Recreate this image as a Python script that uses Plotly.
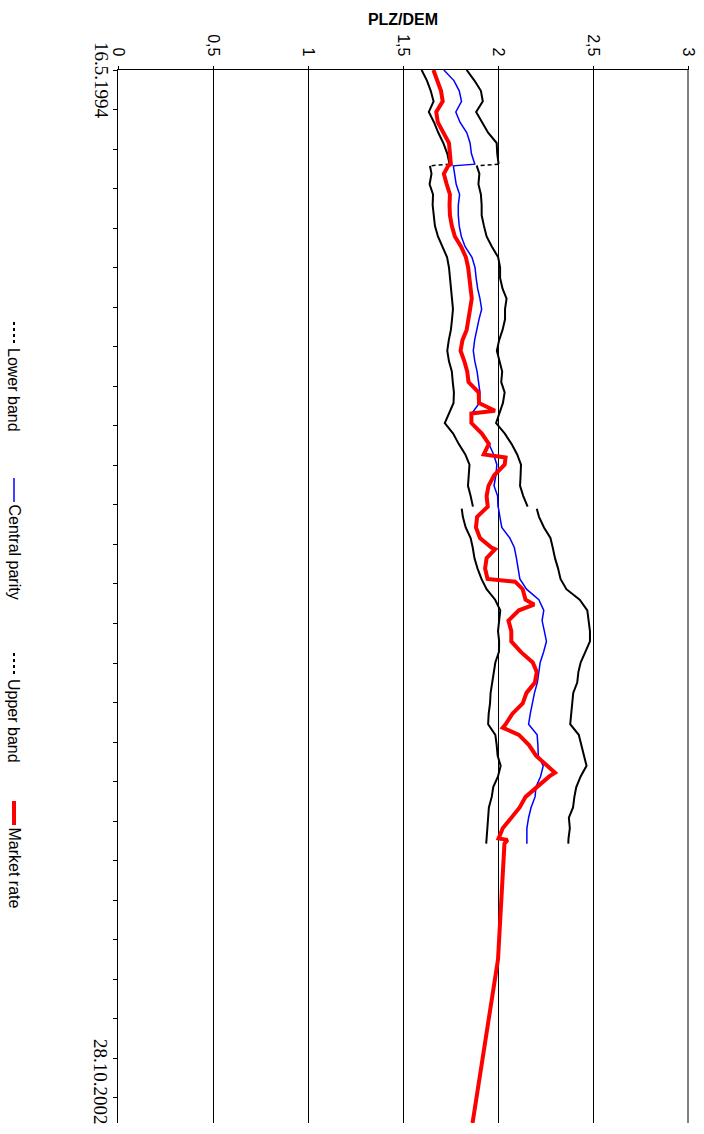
import plotly.graph_objects as go

# ---------------- data ----------------
band_dates = [
    "1994-05-16", "1994-06-16", "1994-07-16", "1994-08-16", "1994-09-16",
    "1994-10-16", "1994-11-16", "1994-12-16", "1995-01-16", "1995-02-16",
    "1995-02-21",
    "1995-03-16", "1995-04-16", "1995-05-16", "1995-06-16", "1995-07-16",
    "1995-08-16", "1995-09-16", "1995-10-16", "1995-11-16", "1995-12-16",
    "1996-01-16", "1996-02-16", "1996-03-16", "1996-04-16", "1996-05-16",
    "1996-06-16", "1996-07-16", "1996-08-16", "1996-09-16", "1996-10-16",
    "1996-11-16", "1996-12-16", "1997-01-16", "1997-02-16", "1997-03-16",
    "1997-04-16", "1997-05-16", "1997-06-16", "1997-07-16", "1997-08-16",
    "1997-09-16", "1997-10-16", "1997-11-16",
    "1997-11-22",
    "1997-12-16", "1998-01-16", "1998-02-16", "1998-03-16", "1998-04-16",
    "1998-05-16", "1998-06-16", "1998-07-16", "1998-08-16", "1998-09-16",
    "1998-10-16", "1998-11-16", "1998-12-16", "1999-01-16", "1999-02-16",
    "1999-03-16", "1999-04-16", "1999-05-16", "1999-06-16", "1999-07-16",
    "1999-08-16", "1999-09-16", "1999-10-16", "1999-11-16", "1999-12-16",
    "2000-01-16", "2000-02-16", "2000-03-16", "2000-04-16", "2000-05-16",
    "2000-06-16", "2000-07-16", "2000-07-31",
]

lower_band = [
    1.598, 1.626, 1.646, 1.661, 1.636, 1.663, 1.686, 1.712, 1.733, 1.745,
    1.642,
    1.650, 1.640, 1.658, 1.656, 1.660, 1.668, 1.684, 1.706, 1.732, 1.742,
    1.748, 1.754, 1.758, 1.763, 1.758, 1.752, 1.741, 1.733, 1.742, 1.757,
    1.762, 1.768, 1.766, 1.740, 1.720, 1.764, 1.793, 1.828, 1.850, 1.846,
    1.842, 1.856, 1.868,
    1.809,
    1.815, 1.830, 1.856, 1.867, 1.876, 1.892, 1.913,
    1.940, 1.985, 2.012, 2.008, 2.000, 2.006, 2.005, 1.986, 1.978, 1.969,
    1.961, 1.958, 1.951, 1.948, 1.986, 1.993, 1.998, 2.014, 2.000, 1.975,
    1.967, 1.952, 1.949, 1.942, 1.940, 1.938,
]

central_parity = [
    1.715, 1.768, 1.796, 1.808, 1.778, 1.800, 1.836, 1.853, 1.860, 1.878,
    1.765,
    1.770, 1.780, 1.798, 1.791, 1.791, 1.796, 1.807, 1.827, 1.863, 1.879,
    1.885, 1.893, 1.905, 1.914, 1.900, 1.887, 1.877, 1.870, 1.878, 1.890,
    1.898, 1.905, 1.902, 1.862, 1.858, 1.920, 1.952, 1.977, 1.994, 1.989,
    1.979, 1.998, 2.000,
    2.003,
    2.010, 2.020, 2.062, 2.086, 2.097, 2.106, 2.115,
    2.150, 2.215, 2.241, 2.232, 2.244, 2.255, 2.240, 2.222, 2.215, 2.207,
    2.192, 2.180, 2.170, 2.161, 2.206, 2.210, 2.212, 2.238, 2.224, 2.200,
    2.195, 2.174, 2.161, 2.152, 2.151, 2.152,
]

upper_band = [
    1.835, 1.876, 1.910, 1.920, 1.885, 1.915, 1.948, 1.993, 1.996, 2.003,
    1.888,
    1.902, 1.897, 1.910, 1.914, 1.914, 1.926, 1.940, 1.968, 2.001, 2.011,
    2.011, 2.024, 2.045, 2.037, 2.037, 2.024, 2.006, 1.994, 2.009, 2.022,
    2.017, 2.035, 2.026, 2.006, 1.990, 2.036, 2.071, 2.101, 2.121, 2.119,
    2.116, 2.133, 2.156,
    2.204,
    2.216, 2.242, 2.276, 2.288, 2.300, 2.316, 2.329,
    2.360, 2.430, 2.470, 2.476, 2.484, 2.484, 2.460, 2.435, 2.423, 2.417,
    2.396, 2.391, 2.386, 2.380, 2.425, 2.438, 2.452, 2.466, 2.435, 2.412,
    2.402, 2.395, 2.373, 2.378, 2.371, 2.370,
]

# index of first point after the 1995 realignment and after the 1997 band widening
realign_idx = 10
widen_idx = 44

market_dates = [
    "1994-05-16", "1994-06-16", "1994-07-16", "1994-08-16", "1994-09-16",
    "1994-10-16", "1994-11-16", "1994-12-16", "1995-01-16", "1995-02-16",
    "1995-02-21", "1995-03-16", "1995-04-16", "1995-05-16", "1995-06-16",
    "1995-07-16", "1995-08-16", "1995-09-16", "1995-10-16", "1995-11-16",
    "1995-12-16", "1996-01-16", "1996-02-16", "1996-03-16", "1996-04-16",
    "1996-05-16", "1996-06-16", "1996-07-16", "1996-08-16", "1996-09-16",
    "1996-10-16", "1996-11-16", "1996-12-16", "1997-01-16", "1997-02-08",
    "1997-02-16", "1997-03-16", "1997-04-16", "1997-05-16", "1997-06-16",
    "1997-06-25", "1997-07-16", "1997-08-16", "1997-09-16", "1997-10-16",
    "1997-11-16", "1997-12-16", "1998-01-16", "1998-02-16", "1998-03-16",
    "1998-03-21", "1998-04-16", "1998-05-16", "1998-06-16", "1998-06-24",
    "1998-07-16", "1998-08-16", "1998-08-30", "1998-09-16", "1998-10-16",
    "1998-11-16", "1998-12-16", "1999-01-16", "1999-02-16", "1999-03-16",
    "1999-04-16", "1999-05-16", "1999-06-16", "1999-07-16", "1999-08-16",
    "1999-08-26", "1999-09-16", "1999-10-16", "1999-11-16", "1999-12-16",
    "2000-01-05", "2000-01-16", "2000-02-16", "2000-03-16", "2000-04-16",
    "2000-05-16", "2000-06-16", "2000-07-16", "2000-07-20", "2000-07-31",
    "2001-07-06", "2002-10-28",
]

market_rate = [
    1.660, 1.680, 1.700, 1.709, 1.675, 1.683, 1.716, 1.742, 1.747, 1.752,
    1.738, 1.715, 1.730, 1.747, 1.745, 1.747, 1.757, 1.773, 1.806, 1.831,
    1.843, 1.850, 1.856, 1.862, 1.853, 1.842, 1.835, 1.813, 1.803, 1.823,
    1.838, 1.845, 1.898, 1.900, 1.984, 1.860, 1.860, 1.915, 1.952, 1.925,
    2.040, 2.035, 1.980, 1.950, 1.940, 1.946, 1.890, 1.884, 1.905, 1.965,
    1.985, 1.940, 1.932, 1.945, 2.090, 2.130, 2.145, 2.190, 2.110, 2.055,
    2.070, 2.070, 2.120, 2.183, 2.204, 2.194, 2.150, 2.130, 2.076, 2.040,
    2.025, 2.110, 2.163, 2.200, 2.262, 2.300, 2.270, 2.206, 2.145, 2.114,
    2.072, 2.025, 2.003, 2.050, 2.034, 2.000, 1.866,
]

value_ticks = [0, 0.5, 1, 1.5, 2, 2.5, 3]
value_tick_labels = ["0", "0,5", "1", "1,5", "2", "2,5", "3"]
date_labels = ["16.5.1994", "28.10.2002"]
date_range = ["1994-05-16", "2002-10-28"]
series_names = ["Lower band", "Central parity", "Upper band", "Market rate"]
title_text = "PLZ/DEM"

# ---------------- figure ----------------
SANS = "Liberation Sans, Arial, sans-serif"
SERIF = "Liberation Serif, Times New Roman, serif"


def split_at(vals, dates, idxs):
    xs, ys = [], []
    for i, (v, d) in enumerate(zip(vals, dates)):
        if i in idxs:
            xs.append(None)
            ys.append(d)
        xs.append(v)
        ys.append(d)
    return xs, ys


fig = go.Figure()

lx, ly = split_at(lower_band, band_dates, {realign_idx, widen_idx})
ux, uy = split_at(upper_band, band_dates, {realign_idx, widen_idx})

fig.add_trace(go.Scatter(x=lx, y=ly, mode="lines", name=series_names[0],
                         line=dict(color="black", width=2), connectgaps=False))
fig.add_trace(go.Scatter(x=central_parity, y=band_dates, mode="lines", name=series_names[1],
                         line=dict(color="#0000ff", width=1.5)))
fig.add_trace(go.Scatter(x=ux, y=uy, mode="lines", name=series_names[2],
                         line=dict(color="black", width=2), connectgaps=False))
# dashed connectors at the 1995 realignment
r0, r1 = realign_idx - 1, realign_idx
fig.add_trace(go.Scatter(
    x=[upper_band[r0], upper_band[r1], None, lower_band[r0], lower_band[r1]],
    y=[band_dates[r0], band_dates[r1], None, band_dates[r0], band_dates[r1]],
    mode="lines", line=dict(color="black", width=1.5, dash="4px,3px"),
    showlegend=False, hoverinfo="skip"))
fig.add_trace(go.Scatter(x=market_rate, y=market_dates, mode="lines", name=series_names[3],
                         line=dict(color="#ff0000", width=4)))

W, H = 704, 1134
L, R, T, B = 118, 15, 70, 11
pw, ph = W - L - R, H - T - B
X_MAX = 3 * pw / 570.0   # keeps 190 px per unit and leaves the "3" grid line inside


def px_x(x):
    return (x - L) / pw


def px_y(y):
    return (H - B - y) / ph


annotations = [
    dict(text=date_labels[0], x=px_x(101), y=px_y(80), xref="paper", yref="paper",
         textangle=90, showarrow=False, xanchor="center", yanchor="middle",
         font=dict(family=SERIF, size=19, color="black")),
    dict(text=date_labels[1], x=px_x(101), y=px_y(1082), xref="paper", yref="paper",
         textangle=90, showarrow=False, xanchor="center", yanchor="middle",
         font=dict(family=SERIF, size=19, color="black")),
]

# custom rotated legend
dash_ln = dict(color="black", width=2, dash="3px,3px")
legend_items = [
    (series_names[0], dash_ln, 322),
    (series_names[1], dict(color="#0000ff", width=1.5), 478),
    (series_names[2], dash_ln, 653),
    (series_names[3], dict(color="#ff0000", width=4), 801),
]
shapes = [
    # last value grid line sits on the plot edge, which plotly skips
    dict(type="line", xref="x", yref="paper", x0=value_ticks[-1], x1=value_ticks[-1],
         y0=0, y1=1, line=dict(color="black", width=1), layer="below"),
]
LEG_X = 14
SYM = 24
for name, ln, y0 in legend_items:
    shapes.append(dict(type="line", xref="paper", yref="paper",
                       x0=px_x(LEG_X), x1=px_x(LEG_X), y0=px_y(y0), y1=px_y(y0 + SYM),
                       line=ln))
    annotations.append(dict(text=name, x=px_x(LEG_X), y=px_y(y0 + SYM),
                            xref="paper", yref="paper", textangle=90, showarrow=False,
                            xanchor="center", yanchor="top",
                            font=dict(family=SANS, size=16, color="black")))

fig.update_layout(
    width=W, height=H, autosize=False,
    margin=dict(l=L, r=R, t=T, b=B, pad=0, autoexpand=False),
    paper_bgcolor="white", plot_bgcolor="white",
    showlegend=False,
    title=dict(text="<b>" + title_text + "</b>", x=px_x(403), xref="paper",
               y=1 - 19 / H, yref="container", xanchor="center", yanchor="middle",
               font=dict(family=SANS, size=16, color="black")),
    xaxis=dict(range=[0, X_MAX], side="top", tickvals=value_ticks, ticktext=value_tick_labels,
               tickangle=90, showgrid=True, gridcolor="black", gridwidth=1,
               zeroline=False, showline=True, linecolor="black", linewidth=1,
               ticks="outside", ticklen=3, tickcolor="black", ticklabelstandoff=4,
               automargin=False, ticklabeloverflow="allow",
               tickfont=dict(family=SANS, size=16, color="black")),
    yaxis=dict(type="date", range=[date_range[1], date_range[0]], showgrid=False,
               zeroline=False, showline=True, linecolor="black", linewidth=1,
               ticks="outside", ticklen=4, tickcolor="black", automargin=False,
               tick0=date_range[0], dtick=115.9 * 86400000, showticklabels=False),
    annotations=annotations,
    shapes=shapes,
)

fig.write_html("out.html",
               config={"displayModeBar": False, "responsive": False},
               post_script="document.body.style.margin='0';document.body.style.overflow='hidden';")
